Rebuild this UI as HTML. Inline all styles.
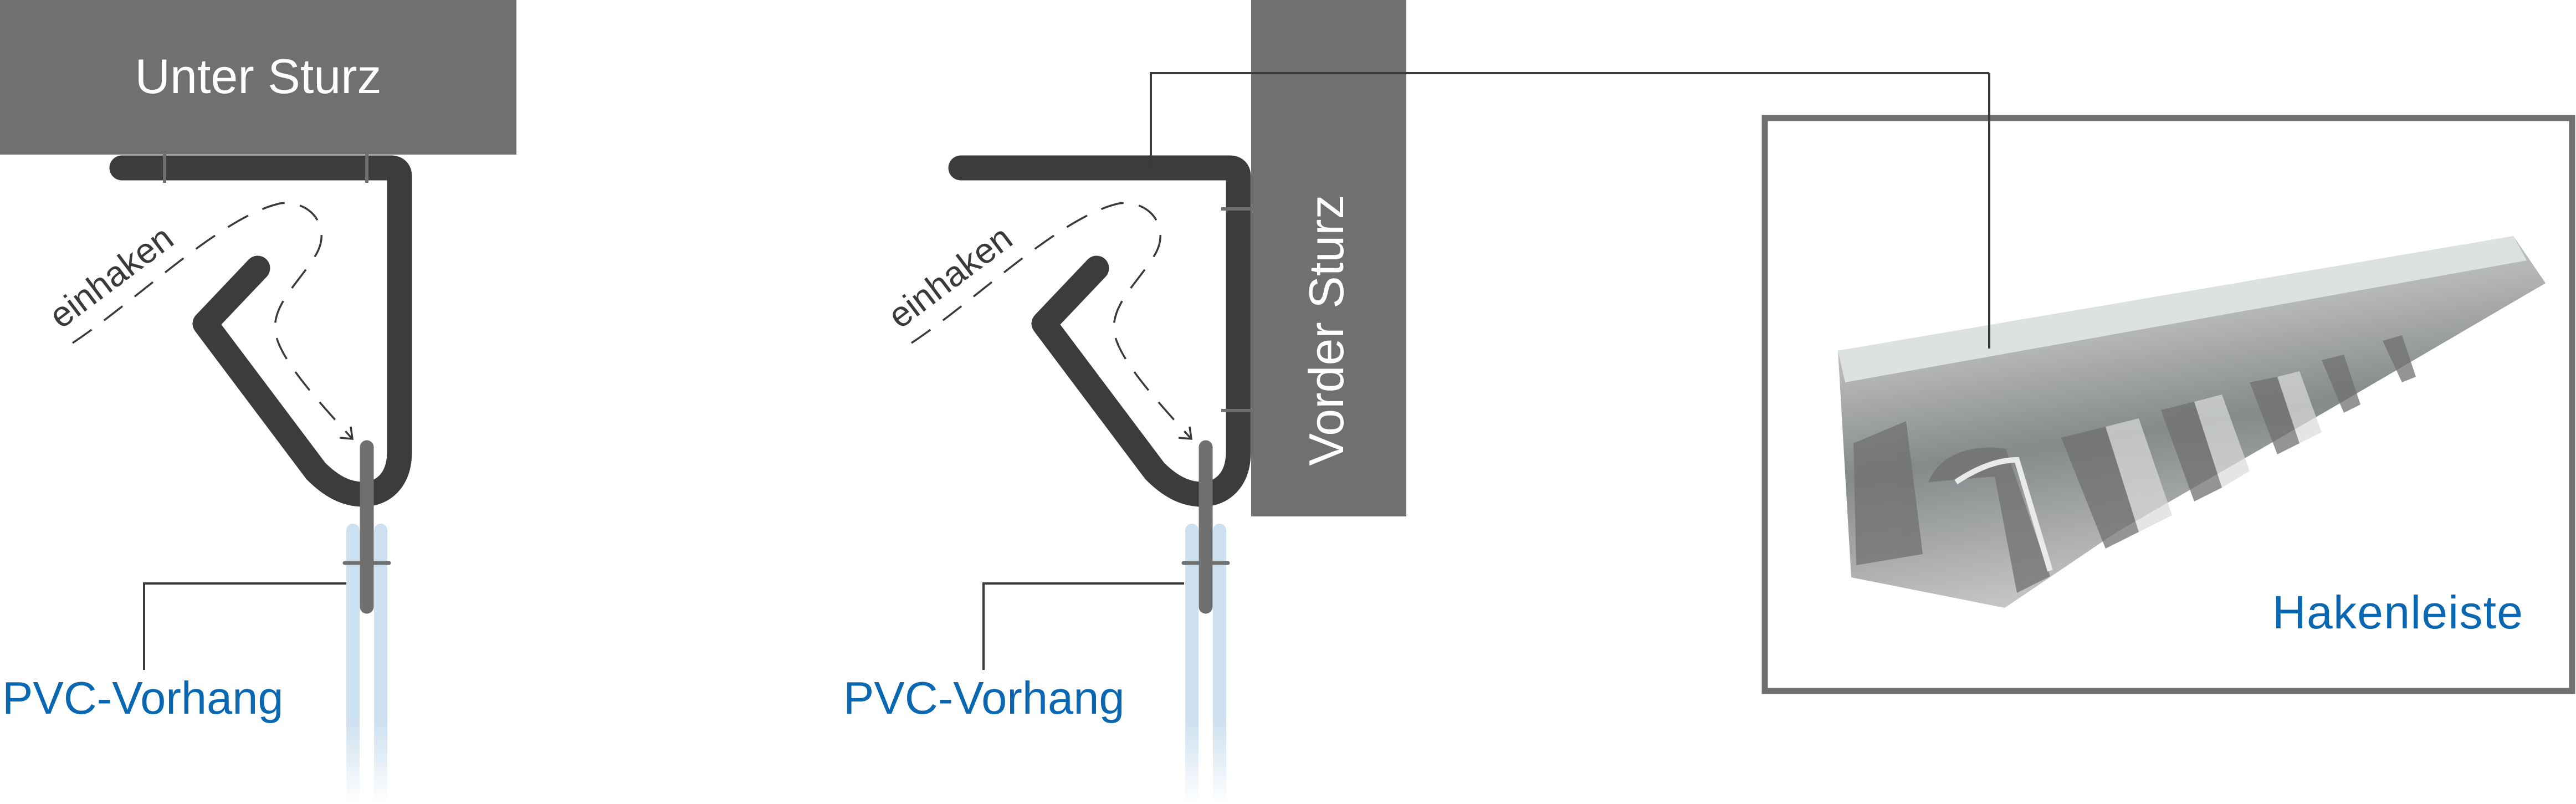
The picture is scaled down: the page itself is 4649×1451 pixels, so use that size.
<!DOCTYPE html>
<html><head><meta charset="utf-8"><style>
html,body{margin:0;padding:0;background:#fff;}
body{width:4649px;height:1451px;overflow:hidden;position:relative;}
svg{position:absolute;left:0;top:0;}
</style></head><body>
<svg width="4649" height="1451" viewBox="0 0 4649 1451" xmlns="http://www.w3.org/2000/svg">
<defs>
<linearGradient id="fade" x1="0" y1="0" x2="0" y2="1">
<stop offset="0" stop-color="#cde0ef"/><stop offset="0.7" stop-color="#cde0ef"/><stop offset="1" stop-color="#cde0ef" stop-opacity="0"/>
</linearGradient>
<linearGradient id="metal" x1="0" y1="0" x2="0.3" y2="1">
<stop offset="0" stop-color="#dfe3e0"/><stop offset="0.35" stop-color="#b4b7b5"/><stop offset="0.6" stop-color="#86898a"/><stop offset="1" stop-color="#c8cac8"/>
</linearGradient>
</defs>

<!-- Left figure -->
<rect x="0" y="0" width="932" height="279" fill="#707070"/>
<text x="466" y="168" font-family="Liberation Sans, sans-serif" font-size="88" fill="#fff" text-anchor="middle">Unter Sturz</text>
<g id="fig">
<rect x="625" y="945" width="24" height="506" rx="12" fill="url(#fade)"/>
<rect x="675" y="945" width="24" height="506" rx="12" fill="url(#fade)"/>
<path d="M 220 303 L 705 303 Q 721 303 721 319 L 721 815 C 721 868 690 892 655 892 C 622 892 595 875 570 850 L 370 584 L 465 484" fill="none" stroke="#3c3c3c" stroke-width="45" stroke-linecap="round" stroke-linejoin="round"/>
<path d="M 131 619 C 250 540, 400 390, 506 367 C 560 360, 600 410, 570 460 C 540 510, 490 550, 497 600 C 505 650, 580 730, 635 791" fill="none" stroke="#3a3a3a" stroke-width="3.5" stroke-dasharray="42 28"/>
<path d="M 613 790 L 636 792 L 633 770" fill="none" stroke="#3a3a3a" stroke-width="3.5"/>
<line x1="662" y1="807" x2="662" y2="1095" stroke="#6f6f6f" stroke-width="25" stroke-linecap="round"/>
<line x1="622" y1="1016" x2="702" y2="1016" stroke="#6f6f6f" stroke-width="7" stroke-linecap="round"/>
<text transform="translate(110,595) rotate(-37)" font-family="Liberation Sans, sans-serif" font-size="64" fill="#3a3a3a">einhaken</text>
</g>
<line x1="297" y1="279" x2="297" y2="330" stroke="#6f6f6f" stroke-width="6"/>
<line x1="662" y1="279" x2="662" y2="330" stroke="#6f6f6f" stroke-width="6"/>
<path d="M 260 1209 L 260 1053 L 625 1053" fill="none" stroke="#3a3a3a" stroke-width="4"/>
<text x="4" y="1288" font-family="Liberation Sans, sans-serif" font-size="83" fill="#0a68b3">PVC-Vorhang</text>

<!-- Right figure -->
<rect x="2258" y="0" width="280" height="932" fill="#707070"/>
<text transform="translate(2424,596) rotate(-90)" font-family="Liberation Sans, sans-serif" font-size="88" fill="#fff" text-anchor="middle">Vorder Sturz</text>
<use href="#fig" transform="translate(1514,0)"/>
<line x1="2204" y1="377" x2="2258" y2="377" stroke="#6f6f6f" stroke-width="6"/>
<line x1="2204" y1="741" x2="2258" y2="741" stroke="#6f6f6f" stroke-width="6"/>
<path d="M 1775 1209 L 1775 1053 L 2137 1053" fill="none" stroke="#3a3a3a" stroke-width="4"/>
<text x="1522" y="1288" font-family="Liberation Sans, sans-serif" font-size="83" fill="#0a68b3">PVC-Vorhang</text>

<!-- Hakenleiste -->
<rect x="3185" y="213" width="1457" height="1034" fill="none" stroke="#707070" stroke-width="11"/>
<polygon points="3317,633 4536,426 4594,511 4202,740 3819,961 3618,1097 3341,1042" fill="url(#metal)"/>
<polygon points="3317,633 4536,426 4560,470 3330,690" fill="#dde2de"/>
<g fill="#6f716f" opacity="0.75">
<path d="M 3480 870 C 3500 820 3560 800 3620 810 L 3700 1040 L 3640 1070 L 3600 860 Z"/>
<path d="M 3720 790 L 3800 770 L 3860 960 L 3800 990 Z"/>
<path d="M 3900 740 L 3960 725 L 4010 880 L 3960 905 Z"/>
<path d="M 4060 690 L 4110 680 L 4150 800 L 4110 820 Z"/>
<path d="M 4190 650 L 4230 640 L 4260 730 L 4230 745 Z"/>
<path d="M 4300 615 L 4335 605 L 4360 680 L 4335 690 Z"/>
<path d="M 3345 800 L 3440 760 L 3470 1000 L 3350 1020 Z"/>
</g>
<g fill="#d9dcda" opacity="0.7">
<path d="M 3800 770 L 3860 755 L 3920 930 L 3860 960 Z"/>
<path d="M 3960 725 L 4010 712 L 4060 850 L 4010 880 Z"/>
<path d="M 4110 680 L 4150 670 L 4190 780 L 4150 800 Z"/>
</g>
<path d="M 3530 870 C 3560 850 3600 830 3640 830 L 3700 1030" fill="none" stroke="#e8ebe8" stroke-width="10"/>
<line x1="3590" y1="132" x2="3590" y2="629" stroke="#3a3a3a" stroke-width="4"/>
<path d="M 2077 303 L 2077 132 L 3590 132" fill="none" stroke="#3a3a3a" stroke-width="4"/>
<text x="4553" y="1134" font-family="Liberation Sans, sans-serif" font-size="84" fill="#0a68b3" text-anchor="end" textLength="452">Hakenleiste</text>
</svg>
</body></html>
